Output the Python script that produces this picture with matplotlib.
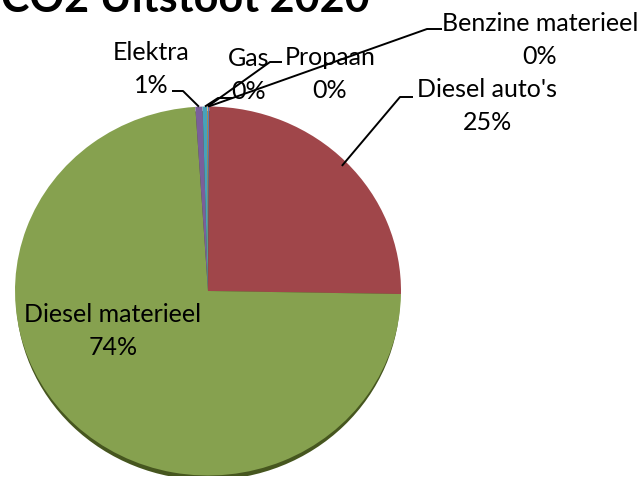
import numpy as np
import matplotlib
matplotlib.use('Agg')
import matplotlib.pyplot as plt
from matplotlib.patches import Ellipse

# ── data ───────────────────────────────────────────────────────────────────────
categories = ['Benzine materieel', "Diesel auto's", 'Diesel materieel',
              'Elektra', 'Gas', 'Propaan']
values = [0.1, 25.2, 73.8, 0.6, 0.4, 0.05]

colors = ['#4F81BD', '#A0464A', '#86A14F', '#7A5F9B', '#46A2BA', '#F79646']
RIM = '#46561F'

# ── layout (pixels) ────────────────────────────────────────────────────────────
W, H = 640, 483
CX, CY, RX, RY = 208, 291, 193, 184.5
FONT = ['Lato', 'DejaVu Sans']
FS = 18

fig = plt.figure(figsize=(W / 100, H / 100), dpi=100)
fig.patch.set_facecolor('white')

# pie axes: box sized to the ellipse so the pie is slightly squashed
pax = fig.add_axes([(CX - RX) / W, 1 - (CY + RY) / H, 2 * RX / W, 2 * RY / H])
wedges, _ = pax.pie(values, colors=colors, startangle=90, counterclock=False,
                    radius=1, wedgeprops=dict(linewidth=0, antialiased=True))
pax.add_patch(Ellipse((0, -4.5 / RY), 1.99, 2, facecolor=RIM, edgecolor='none', zorder=0))
pax.set_aspect('auto')
pax.set_xlim(-1, 1)
pax.set_ylim(-1, 1)
pax.axis('off')

# overlay axes in pixel coordinates for labels and leaders
ax = fig.add_axes([0, 0, 1, 1], zorder=5)
ax.set_xlim(0, W)
ax.set_ylim(H, 0)
ax.axis('off')
ax.patch.set_alpha(0)


def edge_point(w, r=1.0):
    mid = np.deg2rad((w.theta1 + w.theta2) / 2)
    return CX + RX * r * np.cos(mid), CY - RY * r * np.sin(mid)


total = sum(values)
pcts = [f'{v / total * 100:.0f}%' for v in values]

# label centre, leader knee points, radius fraction of leader end
label_pos = {
    'Benzine materieel': ((540, 40), [(442, 29), (427, 29)], 1.0),
    "Diesel auto's":     ((487, 106), [(413, 97), (400, 97)], 0.97),
    'Diesel materieel':  ((113, 331), None, None),
    'Elektra':           ((151, 69), [(172, 91), (183, 91)], 1.0),
    'Gas':               ((249, 75), [(232, 98), (218, 98)], 1.0),
    'Propaan':           ((330, 74), [(282, 62), (270, 62)], 1.0),
}

for w, name, pct in zip(wedges, categories, pcts):
    (lx, ly), knee, r = label_pos[name]
    ax.text(lx, ly, f'{name}\n{pct}', ha='center', va='center',
            multialignment='center', linespacing=1.5,
            fontsize=FS, family=FONT, color='black')
    if knee:
        ex, ey = edge_point(w, r)
        xs = [p[0] for p in knee] + [ex]
        ys = [p[1] for p in knee] + [ey]
        ax.plot(xs, ys, color='black', lw=1.4, solid_capstyle='butt')

ax.text(185, 12, 'CO2 Uitstoot 2020', ha='center', va='baseline',
        fontsize=31, fontweight='bold', family=FONT, color='black')

fig.savefig('out.png', dpi=100, facecolor='white')
